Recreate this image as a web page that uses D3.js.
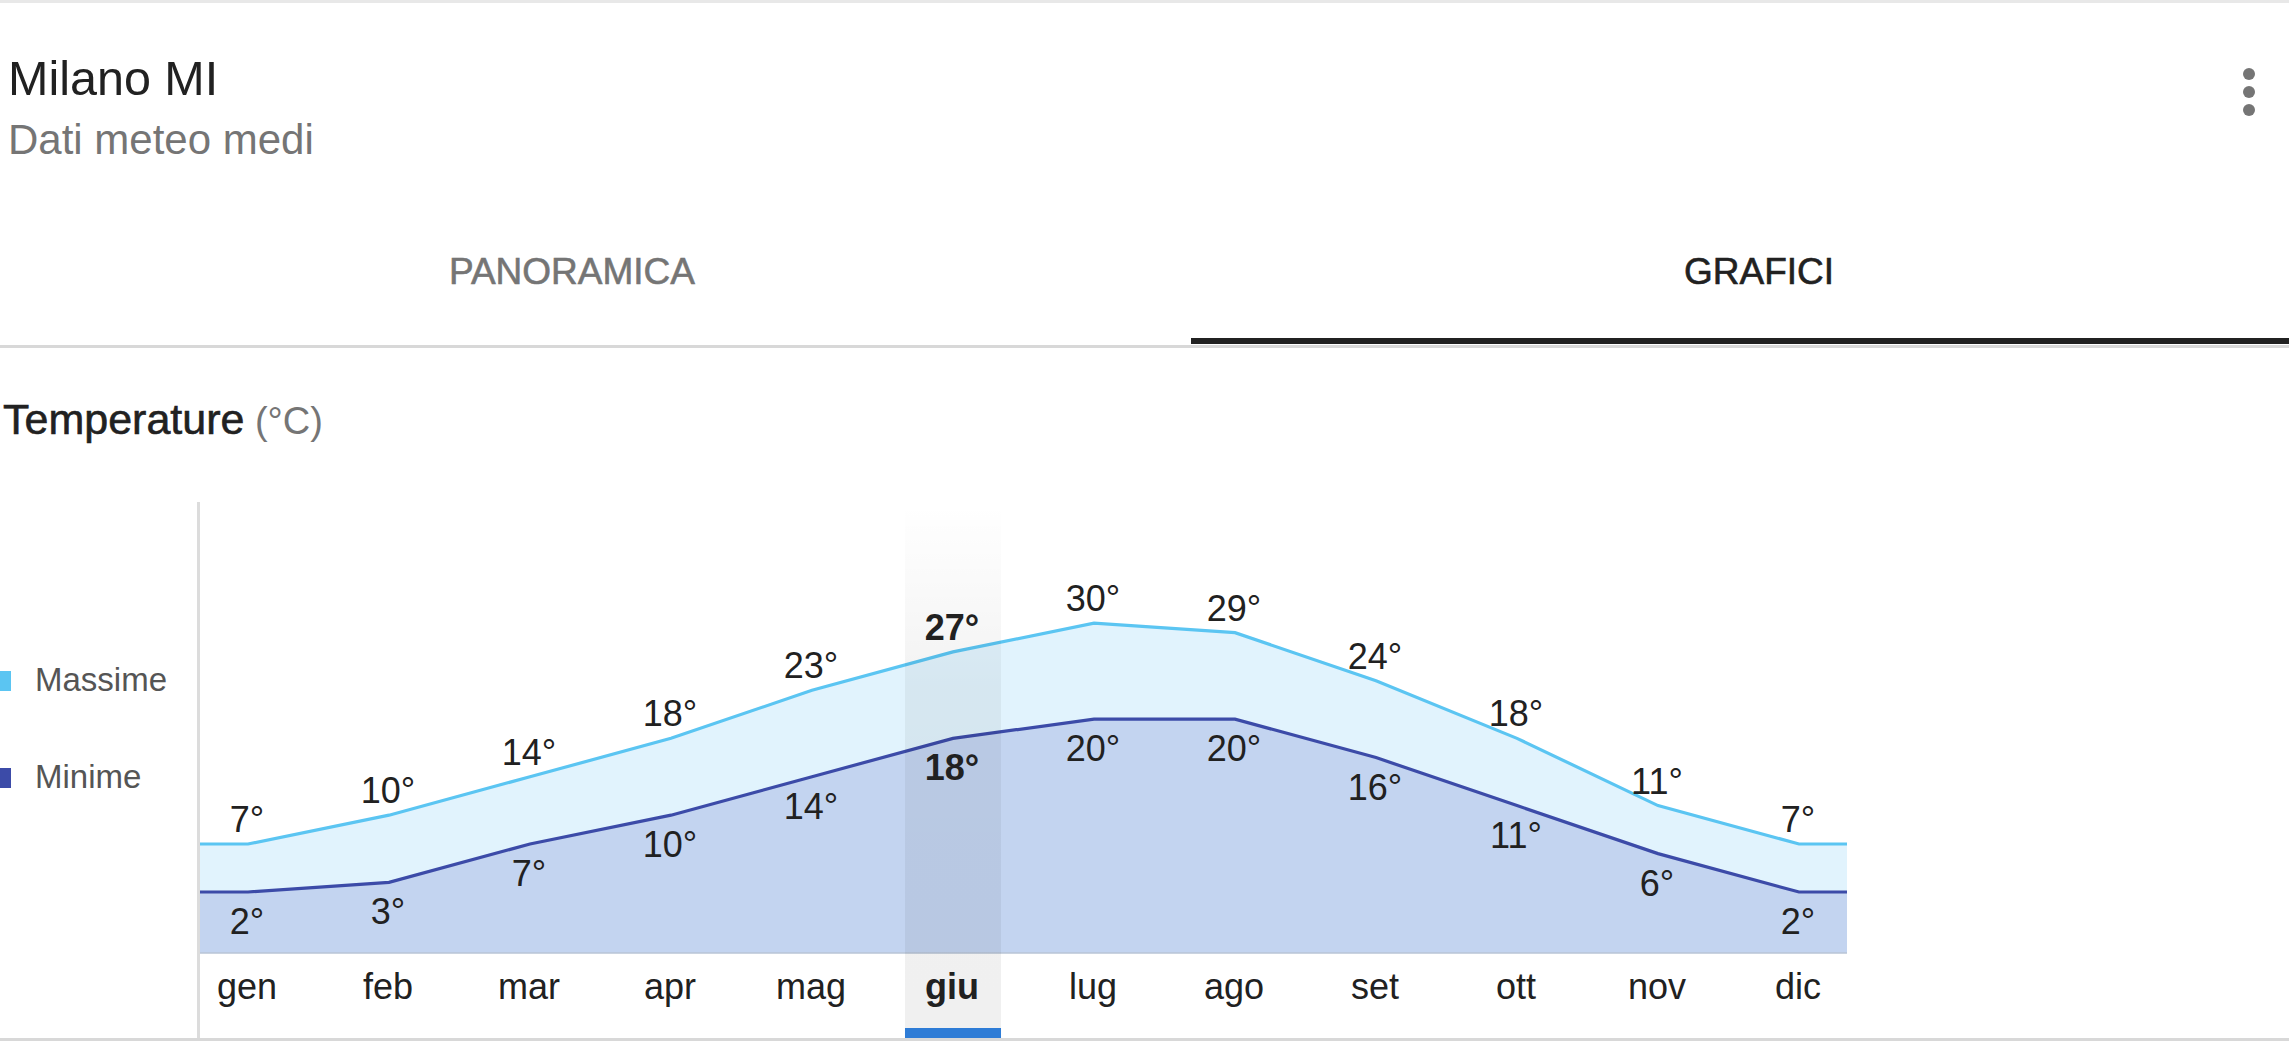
<!DOCTYPE html>
<html>
<head>
<meta charset="utf-8">
<script src="https://cdn.jsdelivr.net/npm/d3@7"></script>
<style>
  html, body { margin: 0; padding: 0; background: #fff; overflow: hidden; }
  text { font-family: "Liberation Sans", sans-serif; }
</style>
</head>
<body>
<svg id="chart"></svg>
<script>
var months = ['gen', 'feb', 'mar', 'apr', 'mag', 'giu', 'lug', 'ago', 'set', 'ott', 'nov', 'dic'];
var massime = [7, 10, 14, 18, 23, 27, 30, 29, 24, 18, 11, 7];
var minime = [2, 3, 7, 10, 14, 18, 20, 20, 16, 11, 6, 2];
var legendLabels = ['Massime', 'Minime'];
var selectedMonth = 'giu';

var w = 2289,
    h = 1057,
    plotLeft = 200,
    plotRight = 1847,
    plotTop = 504,
    plotBottom = 953;

var svg = d3.select('#chart').attr('width', w).attr('height', h);

var defs = svg.append('defs');
var grad = defs.append('linearGradient')
  .attr('id', 'band').attr('x1', 0).attr('x2', 0).attr('y1', 0).attr('y2', 1);
grad.append('stop').attr('offset', '0%').attr('stop-color', '#000').attr('stop-opacity', 0);
grad.append('stop').attr('offset', '35%').attr('stop-color', '#000').attr('stop-opacity', 0.05);
grad.append('stop').attr('offset', '100%').attr('stop-color', '#000').attr('stop-opacity', 0.06);

var x = d3.scaleBand().domain(months).range([177.5, 1869.5]).paddingInner(0.319).paddingOuter(0.1595);
var y = d3.scaleLinear().domain([-4.35, 42.4]).range([plotBottom, plotTop]);

function center(m) { return x(m) + x.bandwidth() / 2; }

// page header
svg.append('rect').attr('width', w).attr('height', 3).attr('fill', '#e8e8e8');
svg.append('text').attr('x', 8).attr('y', 95).attr('font-size', 48.5).attr('fill', '#212121').text('Milano MI');
svg.append('text').attr('x', 8).attr('y', 154).attr('font-size', 42).attr('fill', '#757575').text('Dati meteo medi');
svg.selectAll('.dot').data([74, 92, 110]).enter().append('circle')
  .attr('cx', 2249).attr('cy', function(d){ return d }).attr('r', 6).attr('fill', '#757575');

// tabs
svg.append('text').attr('x', 572).attr('y', 284).attr('text-anchor', 'middle').attr('font-size', 37)
  .attr('fill', '#757575').attr('stroke', '#757575').attr('stroke-width', 0.6).text('PANORAMICA');
svg.append('text').attr('x', 1759).attr('y', 284).attr('text-anchor', 'middle').attr('font-size', 37)
  .attr('fill', '#212121').attr('stroke', '#212121').attr('stroke-width', 0.6).text('GRAFICI');
svg.append('rect').attr('x', 0).attr('y', 345).attr('width', w).attr('height', 3).attr('fill', '#d8d8d8');
svg.append('rect').attr('x', 1191).attr('y', 338).attr('width', w - 1191).attr('height', 6).attr('fill', '#212121');

// section title
var title = svg.append('text').attr('x', 3).attr('y', 434).attr('font-size', 43);
title.append('tspan').attr('fill', '#212121').attr('stroke', '#212121').attr('stroke-width', 0.6).text('Temperature');
title.append('tspan').attr('fill', '#757575').attr('font-size', 38).attr('dx', 0).text(' (°C)');

// legend
var legendColors = ['#5bc5f2', '#3c4ba8'];
var legendY = [681, 778];
legendLabels.forEach(function(d, i){
  svg.append('rect').attr('x', 0).attr('y', legendY[i] - 10).attr('width', 11).attr('height', 20).attr('fill', legendColors[i]);
  svg.append('text').attr('x', 35).attr('y', legendY[i] + 10).attr('font-size', 33).attr('fill', '#555').text(d);
});

// edges carry the first and last value out to the plot sides
function edged(values) {
  var pts = values.map(function(v, i){ return [center(months[i]), v]; });
  pts.unshift([plotLeft, values[0]]);
  pts.push([plotRight, values[values.length - 1]]);
  return pts;
}

var area = d3.area().x(function(d){ return d[0] }).y0(plotBottom).y1(function(d){ return y(d[1]) });
var line = d3.line().x(function(d){ return d[0] }).y(function(d){ return y(d[1]) });

svg.append('path').datum(edged(massime)).attr('d', area).attr('fill', '#e1f3fd');
svg.append('path').datum(edged(minime)).attr('d', area).attr('fill', '#c3d4f0');
svg.append('path').datum(edged(massime)).attr('d', line).attr('fill', 'none').attr('stroke', legendColors[0]).attr('stroke-width', 3.2);
svg.append('path').datum(edged(minime)).attr('d', line).attr('fill', 'none').attr('stroke', legendColors[1]).attr('stroke-width', 3.2);

// baseline and left rule
svg.append('line').attr('x1', plotLeft).attr('x2', plotRight).attr('y1', plotBottom).attr('y2', plotBottom)
  .attr('stroke', '#b9c4d6').attr('stroke-width', 1.5);
svg.append('rect').attr('x', 197).attr('y', 502).attr('width', 3).attr('height', 537).attr('fill', '#dcdcdc');
svg.append('rect').attr('x', 0).attr('y', 1038).attr('width', w).attr('height', 3).attr('fill', '#d8d8d8');

// selected month
svg.append('rect').attr('x', x(selectedMonth)).attr('y', plotTop).attr('width', x.bandwidth())
  .attr('height', 1028 - plotTop).attr('fill', 'url(#band)');
svg.append('rect').attr('x', x(selectedMonth)).attr('y', 1028).attr('width', x.bandwidth())
  .attr('height', 10).attr('fill', '#2e7cd6');

// value labels
function weight(i) { return months[i] === selectedMonth ? 'bold' : 'normal'; }

svg.selectAll('.hi').data(massime).enter().append('text')
  .attr('class', 'hi')
  .attr('x', function(d, i){ return center(months[i]) - 1 })
  .attr('y', function(d){ return y(d) - 12 })
  .attr('text-anchor', 'middle').attr('font-size', 36).attr('fill', '#212121')
  .attr('font-weight', function(d, i){ return weight(i) })
  .text(function(d){ return d + '°' });

svg.selectAll('.lo').data(minime).enter().append('text')
  .attr('class', 'lo')
  .attr('x', function(d, i){ return center(months[i]) - 1 })
  .attr('y', function(d){ return y(d) + 42 })
  .attr('text-anchor', 'middle').attr('font-size', 36).attr('fill', '#212121')
  .attr('font-weight', function(d, i){ return weight(i) })
  .text(function(d){ return d + '°' });

// month axis
var axis = svg.append('g').attr('transform', 'translate(-1,' + plotBottom + ')')
  .call(d3.axisBottom(x).tickSize(0).tickPadding(20));
axis.select('.domain').remove();
axis.selectAll('text')
  .attr('font-family', '"Liberation Sans", sans-serif')
  .attr('font-size', 36).attr('fill', '#212121')
  .attr('font-weight', function(d){ return d === selectedMonth ? 'bold' : 'normal' });
</script>
</body>
</html>
